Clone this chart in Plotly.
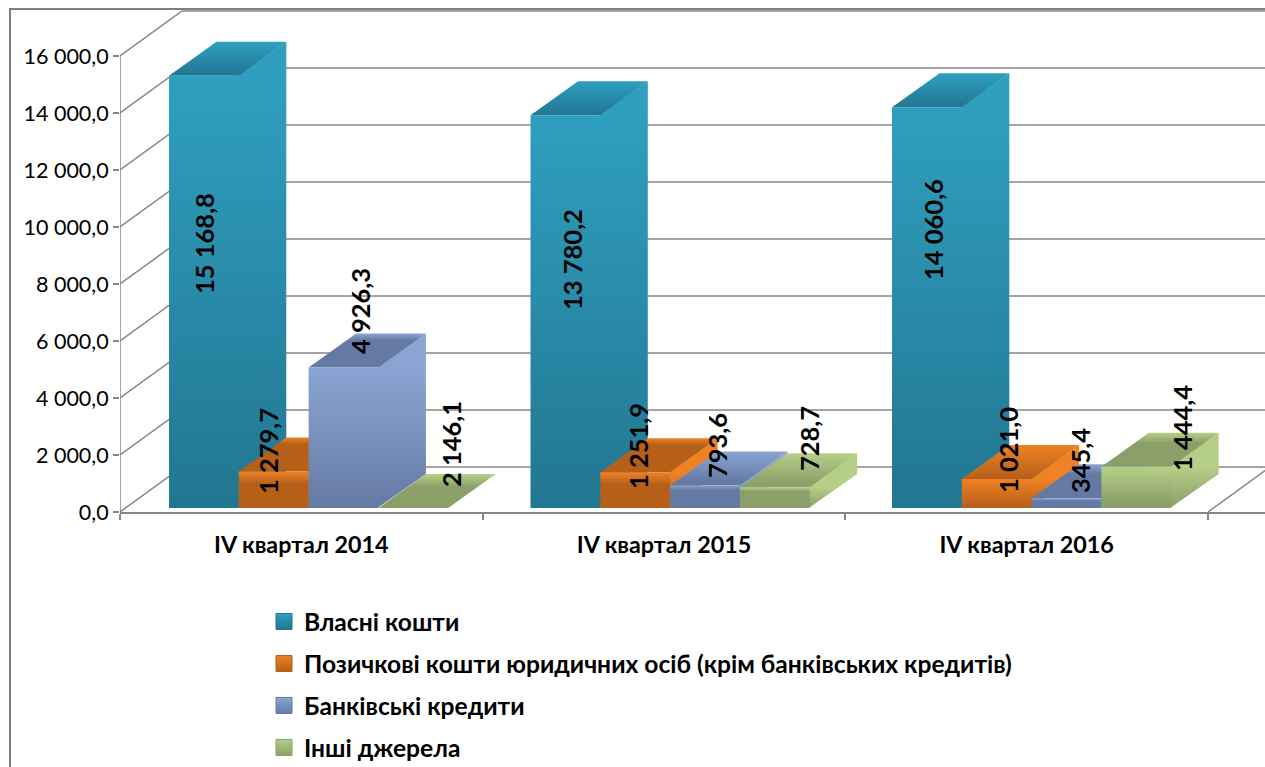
import plotly.graph_objects as go

W, H = 1265, 767
FONT = "Lato, 'Open Sans', sans-serif"

categories = ["IV квартал 2014", "IV квартал 2015", "IV квартал 2016"]
series_names = ["Власні кошти", "Позичкові кошти юридичних осіб (крім банківських кредитів)",
                "Банківські кредити", "Інші джерела"]
own_funds = [15168.8, 13780.2, 14060.6]
legal_entity_loans = [1279.7, 1251.9, 1021.0]
bank_credits = [4926.3, 793.6, 345.4]
other_sources = [2.1461, 728.7, 1444.4]
own_labels = ["15 168,8", "13 780,2", "14 060,6"]
loan_labels = ["1 279,7", "1 251,9", "1 021,0"]
credit_labels = ["4 926,3", "793,6", "345,4"]
other_labels = ["2 146,1", "728,7", "1 444,4"]
y_ticks = [0, 2000, 4000, 6000, 8000, 10000, 12000, 14000, 16000]
y_tick_text = ["0,0", "2 000,0", "4 000,0", "6 000,0", "8 000,0", "10 000,0", "12 000,0", "14 000,0", "16 000,0"]

all_values = [own_funds, legal_entity_loans, bank_credits, other_sources]
all_labels = [own_labels, loan_labels, credit_labels, other_labels]

# ---- layout / styling ----
PX_LEFT, PX_BASE = 120, 512
PX_CAT = 362.67
PX_PER_UNIT = 57 / 2000
def dxu(px): return px / PX_CAT
def dyu(px): return px / PX_PER_UNIT
X_MAX = (W - PX_LEFT) / PX_CAT
Y_MAX = PX_BASE / PX_PER_UNIT
WALL_DX, WALL_DY = dxu(62), dyu(45)
BAR_DX, BAR_DY = dxu(47.5), dyu(34)
BASE_Y = dyu(4)
GROUP_START = dxu(49)
GROUP_PITCH = dxu(361.5)
BAR_W = dxu(69.8)
SEAM = dxu(1)
GRAY = "#868686"

COLORS = [("#2F9FBF", "#227691"), ("#EE8224", "#B55F19"), ("#8AA5D4", "#657AA3"), ("#B6CF87", "#8A9F69")]
# fraction of a face over which the gradient reaches the dark tone: (front, top)
KNEE = {
    (0, 0): (1, 1), (0, 1): (1, 1), (0, 2): (1, 1),
    (1, 0): (.35, .2), (1, 1): (.35, .2), (1, 2): (1, 1),
    (2, 0): (1, .2), (2, 1): (.2, .9), (2, 2): (.3, .3),
    (3, 0): (1, .4), (3, 1): (.2, .9), (3, 2): (.85, .3),
}
# data-label centres, pixels
LABEL_XY = {
    (0, 0): (204, 244), (0, 1): (572, 260), (0, 2): (933, 230),
    (1, 0): (268, 451), (1, 1): (638, 446), (1, 2): (1008, 450),
    (2, 0): (360, 311), (2, 1): (717, 445), (2, 2): (1080, 461),
    (3, 0): (451, 444), (3, 1): (809, 439), (3, 2): (1182, 428),
}

def grad(bright, dark, knee, start=None, stop=None):
    # vertical gradient, bright at the high side
    stops = [[0, dark], [max(0, 1 - knee), dark], [1, bright]]
    if knee >= 1:
        stops = [[0, dark], [1, bright]]
    g = dict(type="vertical", colorscale=stops)
    if start is not None:
        g.update(start=start, stop=stop)
    return g

def face(xs, ys, gradient):
    return go.Scatter(x=xs + xs[:1], y=ys + ys[:1], mode="lines", line=dict(width=0), fill="toself",
                      fillgradient=gradient, showlegend=False, hoverinfo="skip")

fig = go.Figure()

# walls
gx, gy = [], []
for v in y_ticks:
    gx += [0, WALL_DX, X_MAX, None]
    gy += [v, v + WALL_DY, v + WALL_DY, None]
fig.add_trace(go.Scatter(x=gx, y=gy, mode="lines", line=dict(color=GRAY, width=1.5), showlegend=False, hoverinfo="skip"))
fig.add_trace(go.Scatter(x=[3, 3 + WALL_DX], y=[0, WALL_DY], mode="lines", line=dict(color=GRAY, width=1.5),
                         showlegend=False, hoverinfo="skip"))
# value axis line, stops at the top tick
fig.add_trace(go.Scatter(x=[0, 0], y=[y_ticks[0], y_ticks[-1]], mode="lines", line=dict(color=GRAY, width=1.5),
                         cliponaxis=False, showlegend=False, hoverinfo="skip"))

# bars
for g in range(len(categories)):
    for s, vals in enumerate(all_values):
        v = vals[g]
        x0 = g * GROUP_PITCH + GROUP_START + s * BAR_W
        x1 = x0 + BAR_W
        y0, y1 = BASE_Y, BASE_Y + v
        bright, dark = COLORS[s]
        kf, kt = KNEE[(s, g)]
        if v > 100:
            fig.add_trace(face([x1 - SEAM, x1 + BAR_DX, x1 + BAR_DX, x1 - SEAM], [y0, y0 + BAR_DY, y1 + BAR_DY, y1],
                               grad(bright, dark, 1, y0, y1)))
        fig.add_trace(face([x0, x1, x1 + BAR_DX, x0 + BAR_DX], [y1, y1, y1 + BAR_DY, y1 + BAR_DY],
                           grad(bright, dark, kt)))
        if v > 100:
            fig.add_trace(face([x0, x1, x1, x0], [y0, y0, y1, y1], grad(bright, dark, kf)))

# legend entries
for name, (bright, dark) in zip(series_names, COLORS):
    fig.add_trace(go.Scatter(x=[None], y=[None], mode="markers", name=name, legendgroup=name,
                             marker=dict(symbol="square", size=17, color=bright, line=dict(width=1, color=dark),
                                         gradient=dict(type="vertical", color=dark))))

annotations = []
for s, labels in enumerate(all_labels):
    for g, text in enumerate(labels):
        px, py = LABEL_XY[(s, g)]
        annotations.append(dict(x=px / W, y=1 - py / H, xref="paper", yref="paper", text=text, showarrow=False,
                                textangle=-90, xanchor="center", yanchor="middle",
                                font=dict(family=FONT, size=25.5, color="#000000", weight=700)))

frame = dict(type="rect", xref="paper", yref="paper", x0=10 / W, x1=1.05, y0=-0.05, y1=1 - 9 / H,
             line=dict(color="#7f7f7f", width=2), layer="below")

fig.update_layout(
    width=W, height=H, autosize=False,
    margin=dict(l=0, r=0, t=0, b=0, autoexpand=False),
    paper_bgcolor="white", plot_bgcolor="rgba(0,0,0,0)",
    font=dict(family=FONT, color="#000000"),
    shapes=[frame], annotations=annotations,
    xaxis=dict(domain=[PX_LEFT / W, 1], range=[0, X_MAX], showgrid=False, zeroline=False,
               showline=True, linecolor=GRAY, linewidth=1.5,
               tickmode="array", tickvals=[0.5, 1.5, 2.5], ticktext=categories, ticks="",
               ticklabelstandoff=11,
               tickfont=dict(family=FONT, size=23.3, weight=700),
               minor=dict(tickmode="array", tickvals=[0, 1, 2, 3], ticks="outside", ticklen=6, tickcolor=GRAY, tickwidth=1.5)),
    yaxis=dict(domain=[1 - PX_BASE / H, 1], range=[0, Y_MAX], showgrid=False, zeroline=False,
               showline=False,
               tickmode="array", tickvals=y_ticks, ticktext=y_tick_text,
               ticks="outside", ticklen=6, tickcolor=GRAY, tickwidth=1.5,
               tickfont=dict(family=FONT, size=21.5)),
    legend=dict(x=264 / W, y=1 - 599 / H, xanchor="left", yanchor="top", tracegroupgap=7,
                bgcolor="rgba(0,0,0,0)", itemclick=False, itemdoubleclick=False,
                font=dict(family=FONT, size=24.6, color="#000000", weight=700)),
)

fig.write_html("out.html", post_script="document.body.style.margin='0';document.body.style.overflow='hidden';",
               config=dict(displayModeBar=False))
